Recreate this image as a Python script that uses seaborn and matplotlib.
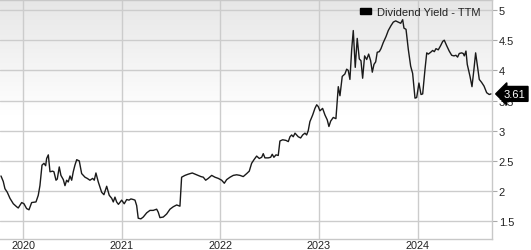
import matplotlib
matplotlib.use("Agg")
import numpy as np
import pandas as pd
import matplotlib.pyplot as plt
from matplotlib.patches import Patch
import seaborn as sns

# ---- data ----
years = [
    2019.774, 2019.797, 2019.814, 2019.838, 2019.865, 2019.899, 2019.933, 2019.949, 2019.984,
    2020.007, 2020.034, 2020.058, 2020.085, 2020.129, 2020.152, 2020.169, 2020.190, 2020.210,
    2020.227, 2020.237, 2020.254, 2020.271, 2020.298, 2020.311, 2020.332, 2020.345, 2020.365,
    2020.382, 2020.406, 2020.423, 2020.440, 2020.456, 2020.474, 2020.491, 2020.507, 2020.524,
    2020.542, 2020.568, 2020.592, 2020.626, 2020.649, 2020.676, 2020.704, 2020.720, 2020.737,
    2020.761, 2020.795, 2020.818, 2020.846, 2020.872, 2020.897, 2020.913, 2020.930, 2020.947,
    2020.965, 2020.998, 2021.024, 2021.049, 2021.072, 2021.092, 2021.116, 2021.133, 2021.150,
    2021.166, 2021.193, 2021.217, 2021.252, 2021.285, 2021.318, 2021.353, 2021.369, 2021.386,
    2021.420, 2021.454, 2021.488, 2021.521, 2021.556, 2021.589, 2021.606, 2021.640, 2021.673,
    2021.714, 2021.759, 2021.802, 2021.826, 2021.850, 2021.876, 2021.911, 2021.944, 2021.978,
    2022.012, 2022.039, 2022.063, 2022.097, 2022.130, 2022.164, 2022.198, 2022.231, 2022.266,
    2022.292, 2022.316, 2022.340, 2022.367, 2022.394, 2022.418, 2022.434, 2022.451, 2022.485,
    2022.509, 2022.525, 2022.542, 2022.563, 2022.586, 2022.603, 2022.631, 2022.664, 2022.688,
    2022.705, 2022.722, 2022.738, 2022.756, 2022.773, 2022.789, 2022.813, 2022.834, 2022.857,
    2022.874, 2022.890, 2022.907, 2022.935, 2022.958, 2022.976, 2022.992, 2023.009, 2023.036,
    2023.060, 2023.083, 2023.100, 2023.118, 2023.144, 2023.171, 2023.195, 2023.212, 2023.235,
    2023.262, 2023.280, 2023.296, 2023.313, 2023.331, 2023.347, 2023.367, 2023.387, 2023.408,
    2023.425, 2023.442, 2023.462, 2023.483, 2023.503, 2023.523, 2023.540, 2023.557, 2023.574,
    2023.590, 2023.611, 2023.628, 2023.651, 2023.679, 2023.702, 2023.729, 2023.753, 2023.777,
    2023.803, 2023.828, 2023.848, 2023.861, 2023.882, 2023.905, 2023.929, 2023.949, 2023.973,
    2023.990, 2024.013, 2024.034, 2024.051, 2024.074, 2024.092, 2024.108, 2024.132, 2024.152,
    2024.169, 2024.186, 2024.209, 2024.233, 2024.254, 2024.270, 2024.294, 2024.320, 2024.345,
    2024.368, 2024.388, 2024.405, 2024.422, 2024.446, 2024.462, 2024.473, 2024.490, 2024.503,
    2024.531, 2024.551, 2024.571, 2024.588, 2024.604, 2024.625, 2024.649, 2024.673, 2024.700,
    2024.726, 2024.743,
]
yields = [
    2.25, 2.16, 2.04, 1.98, 1.88, 1.79, 1.74, 1.72, 1.81,
    1.79, 1.71, 1.69, 1.81, 1.82, 1.93, 2.09, 2.43, 2.46,
    2.42, 2.54, 2.60, 2.32, 2.33, 2.32, 2.18, 2.20, 2.40,
    2.26, 2.19, 2.09, 2.18, 2.15, 2.25, 2.18, 2.32, 2.43,
    2.52, 2.50, 2.29, 2.23, 2.21, 2.18, 2.21, 2.18, 2.30,
    2.15, 1.98, 1.94, 2.08, 1.93, 1.88, 1.82, 1.90, 1.82,
    1.78, 1.85, 1.79, 1.86, 1.85, 1.87, 1.86, 1.85, 1.76,
    1.55, 1.54, 1.57, 1.64, 1.68, 1.68, 1.70, 1.65, 1.56,
    1.57, 1.62, 1.70, 1.74, 1.77, 1.75, 2.23, 2.26, 2.28,
    2.30, 2.27, 2.24, 2.23, 2.18, 2.21, 2.26, 2.23, 2.21,
    2.18, 2.13, 2.19, 2.23, 2.26, 2.27, 2.26, 2.24, 2.29,
    2.33, 2.46, 2.52, 2.58, 2.54, 2.56, 2.62, 2.55, 2.55,
    2.56, 2.61, 2.56, 2.60, 2.59, 2.83, 2.85, 2.84, 2.82,
    2.90, 2.93, 2.90, 2.96, 2.93, 2.90, 2.88, 2.93, 2.96,
    2.93, 3.00, 3.15, 3.26, 3.37, 3.43, 3.40, 3.33, 3.37,
    3.26, 3.18, 3.07, 3.16, 3.22, 3.20, 3.73, 3.58, 3.90,
    3.94, 4.02, 4.00, 3.85, 4.35, 4.66, 4.05, 4.53, 4.19,
    4.16, 3.87, 4.24, 4.18, 4.27, 4.16, 3.97, 4.10, 4.14,
    4.30, 4.31, 4.36, 4.46, 4.56, 4.66, 4.74, 4.80, 4.82,
    4.80, 4.78, 4.84, 4.70, 4.68, 4.35, 4.07, 3.95, 3.54,
    3.55, 3.79, 3.60, 3.61, 4.01, 4.29, 4.27, 4.30, 4.33,
    4.31, 4.36, 4.34, 4.41, 4.48, 4.50, 4.41, 4.32, 4.25,
    4.24, 4.25, 4.22, 4.28, 4.29, 4.28, 4.24, 4.32, 4.10,
    3.90, 3.73, 4.02, 4.29, 4.10, 3.85, 3.80, 3.74, 3.63,
    3.60, 3.61,
]
tick_years = [2020, 2021, 2022, 2023, 2024]
y_ticks = [1.5, 2, 2.5, 3, 3.5, 4, 4.5, 5]
y_tick_labels = ["1.5", "2", "2.5", "3", "3.5", "4", "4.5", "5"]
series_label = "Dividend Yield - TTM"
last_value_label = "3.61"

df = pd.DataFrame({"year": years, "yield": yields})

sns.set_theme(style="white")
plt.rcParams['font.family'] = ['Liberation Sans', 'DejaVu Sans']

W, H = 531, 251
fig = plt.figure(figsize=(W / 100, H / 100), dpi=100)
fig.patch.set_facecolor("white")
ax = fig.add_axes([0, 11 / H, 492 / W, 239 / H])

# background gradient (light gray at top to white in the middle)
grad = np.linspace(0, 1, 256).reshape(-1, 1)
shade = np.clip((grad - 0.52) / 0.48, 0, 1)  # 0 below ~middle, 1 at top
gray = 1.0 - 0.095 * shade
img = np.dstack([gray, gray, gray])
ax.imshow(img, extent=[0, 1, 0, 1], transform=ax.transAxes, origin="lower",
          aspect="auto", zorder=0, interpolation="bilinear")

sns.lineplot(data=df, x="year", y="yield", ax=ax, color="#1a1a1a",
             linewidth=1.0, zorder=3, legend=False)

ax.set_xlim(2019.764, 2024.754)
ax.set_ylim(1.206, 5.166)

ax.set_xticks(tick_years)
ax.set_xticklabels([str(t) for t in tick_years])
ax.set_yticks(y_ticks)
ax.set_yticklabels(y_tick_labels)
ax.yaxis.tick_right()
ax.set_xlabel("")
ax.set_ylabel("")

ax.grid(True, color="#cccccc", linewidth=1.0, linestyle="-")
ax.set_axisbelow(True)
for gl in ax.get_xgridlines() + ax.get_ygridlines():
    gl.set_zorder(1)

ax.spines["left"].set_visible(False)
for side in ["top", "right", "bottom"]:
    ax.spines[side].set_visible(True)
    ax.spines[side].set_color("#c8c8c8")
    ax.spines[side].set_linewidth(1.0)

ax.tick_params(axis="y", which="both", right=True, left=False, length=3.6,
               width=0.8, color="#aaaaaa", labelsize=8, labelcolor="#222222", pad=1.2)
ax.tick_params(axis="x", which="both", bottom=False, length=0,
               labelsize=7.8, labelcolor="#222222", pad=1.0)

# legend
handle = Patch(facecolor="black", edgecolor="black")
leg = ax.legend([handle], [series_label], loc="upper right",
                bbox_to_anchor=(0.99, 1.0), frameon=False, fontsize=8,
                handlelength=1.0, handleheight=0.45, handletextpad=0.5,
                borderaxespad=0.2)
for t in leg.get_texts():
    t.set_color("#222222")

# last value tag
ax.text(1.024, yields[-1], last_value_label, transform=ax.get_yaxis_transform(),
        ha="left", va="center", color="white", fontsize=8, zorder=6,
        clip_on=False,
        bbox=dict(boxstyle="larrow,pad=0.22", facecolor="black", edgecolor="black"))

fig.savefig("out.png", dpi=100)
